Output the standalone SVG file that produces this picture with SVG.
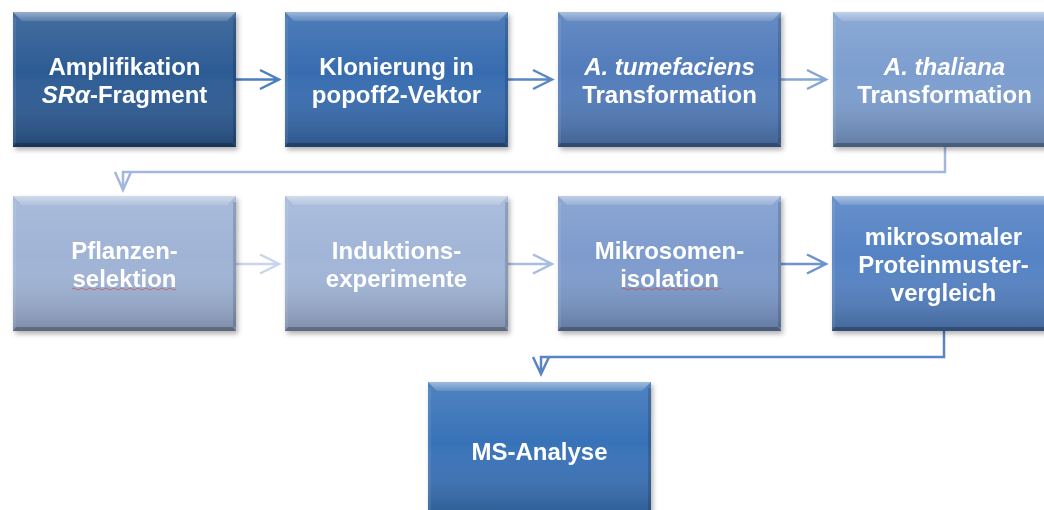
<svg xmlns="http://www.w3.org/2000/svg" width="1044" height="510" viewBox="0 0 1044 510">
<style>
.lbl{font-family:"Liberation Sans",Arial,sans-serif;font-weight:bold;font-size:24px;fill:#ffffff;text-anchor:middle}
.it{font-style:italic}
.conn{fill:none;stroke-width:2.5;stroke-linejoin:miter}
.sq{fill:none;stroke:#d04040;stroke-width:1;opacity:0.6}
</style>
<defs>
<filter id="sh" x="-10%" y="-10%" width="125%" height="130%">
<feDropShadow dx="2" dy="3" stdDeviation="2.5" flood-color="#000" flood-opacity="0.3"/>
</filter>
<linearGradient id="ov" x1="0" y1="0" x2="0" y2="1">
<stop offset="0" stop-color="#ffffff" stop-opacity="0.12"/>
<stop offset="0.45" stop-color="#ffffff" stop-opacity="0"/>
<stop offset="1" stop-color="#000000" stop-opacity="0.22"/>
</linearGradient>
<linearGradient id="topb" x1="0" y1="0" x2="0" y2="1">
<stop offset="0" stop-color="#ffffff" stop-opacity="0.45"/>
<stop offset="1" stop-color="#ffffff" stop-opacity="0.12"/>
</linearGradient>
<g id="bevel">
<rect x="0" y="0" width="223" height="135" fill="url(#ov)"/>
<polygon points="0,0 223,0 214,9 9,9" fill="url(#topb)"/>
<rect x="0" y="6" width="3" height="125" fill="#ffffff" opacity="0.08"/>
<rect x="220" y="6" width="3" height="125" fill="#000000" opacity="0.15"/>
<polygon points="0,135 3,131 220,131 223,135" fill="#000000" opacity="0.25"/>
</g>
</defs>
<rect width="1044" height="510" fill="#ffffff"/>

<g id="connectors">
<path class="conn" stroke="#4a7ebf" d="M236,79.5 H279 M260,70 L279,79.5 L260,89"/>
<path class="conn" stroke="#5b87c5" d="M508,79.5 H552 M533,70 L552,79.5 L533,89"/>
<path class="conn" stroke="#86a6d6" d="M781,79.5 H826 M807,70 L826,79.5 L807,89"/>
<path class="conn" stroke="#a3b7dc" d="M945,147 V172 H123 V190 M115,172 L123,190 L131,172"/>
<path class="conn" stroke="#c8d5ec" d="M236,264 H279 M260,254.5 L279,264 L260,273.5"/>
<path class="conn" stroke="#a9bde0" d="M508,264 H552 M533,254.5 L552,264 L533,273.5"/>
<path class="conn" stroke="#6f93cc" d="M781,264 H826 M807,254.5 L826,264 L807,273.5"/>
<path class="conn" stroke="#5b84c3" d="M944,331 V357 H541 V374 M533,357 L541,374 L549,357"/>
</g>

<g id="n1" filter="url(#sh)">
<rect x="13" y="12" width="223" height="135" fill="#2c5b94"/>
<use href="#bevel" x="13" y="12"/>
<text class="lbl" x="124.5" y="75">Amplifikation</text>
<text class="lbl" x="124.5" y="103"><tspan class="it">SRα</tspan>-Fragment</text>
</g>
<g id="n2" filter="url(#sh)">
<rect x="285" y="12" width="223" height="135" fill="#376cb0"/>
<use href="#bevel" x="285" y="12"/>
<text class="lbl" x="396.5" y="75">Klonierung in</text>
<text class="lbl" x="396.5" y="103">popoff2-Vektor</text>
</g>
<g id="n3" filter="url(#sh)">
<rect x="558" y="12" width="223" height="135" fill="#527cbb"/>
<use href="#bevel" x="558" y="12"/>
<text class="lbl it" x="669.5" y="75">A. tumefaciens</text>
<text class="lbl" x="669.5" y="103">Transformation</text>
</g>
<g id="n4" filter="url(#sh)">
<rect x="833" y="12" width="223" height="135" fill="#7c9ecf"/>
<use href="#bevel" x="833" y="12"/>
<text class="lbl it" x="944.5" y="75">A. thaliana</text>
<text class="lbl" x="944.5" y="103">Transformation</text>
</g>

<g id="n5" filter="url(#sh)">
<rect x="13" y="196" width="223" height="135" fill="#9fb3d6"/>
<use href="#bevel" x="13" y="196"/>
<text class="lbl" x="124.5" y="259">Pflanzen-</text>
<text class="lbl" x="124.5" y="287">selektion</text>
<path class="sq" d="M72,289 q2,-2 4,0 t4,0 t4,0 t4,0 t4,0 t4,0 t4,0 t4,0 t4,0 t4,0 t4,0 t4,0 t4,0 t4,0 t4,0 t4,0 t4,0 t4,0 t4,0 t4,0 t4,0 t4,0 t4,0 t4,0 t4,0 t4,0"/>
</g>
<g id="n6" filter="url(#sh)">
<rect x="285" y="196" width="223" height="135" fill="#a1b5d8"/>
<use href="#bevel" x="285" y="196"/>
<text class="lbl" x="396.5" y="259">Induktions-</text>
<text class="lbl" x="396.5" y="287">experimente</text>
</g>
<g id="n7" filter="url(#sh)">
<rect x="558" y="196" width="223" height="135" fill="#7d9bcd"/>
<use href="#bevel" x="558" y="196"/>
<text class="lbl" x="669.5" y="259">Mikrosomen-</text>
<text class="lbl" x="669.5" y="287">isolation</text>
<path class="sq" d="M622,289 q2,-2 4,0 t4,0 t4,0 t4,0 t4,0 t4,0 t4,0 t4,0 t4,0 t4,0 t4,0 t4,0 t4,0 t4,0 t4,0 t4,0 t4,0 t4,0 t4,0 t4,0 t4,0 t4,0 t4,0 t4,0 t4,0"/>
</g>
<g id="n8" filter="url(#sh)">
<rect x="832" y="196" width="223" height="135" fill="#5482c4"/>
<use href="#bevel" x="832" y="196"/>
<text class="lbl" x="943.5" y="245">mikrosomaler</text>
<text class="lbl" x="943.5" y="273">Proteinmuster-</text>
<text class="lbl" x="943.5" y="301">vergleich</text>
</g>

<g id="n9" filter="url(#sh)">
<rect x="428" y="382" width="223" height="140" fill="#3872b8"/>
<use href="#bevel" x="428" y="382"/>
<text class="lbl" x="539.5" y="460">MS-Analyse</text>
</g>
</svg>
